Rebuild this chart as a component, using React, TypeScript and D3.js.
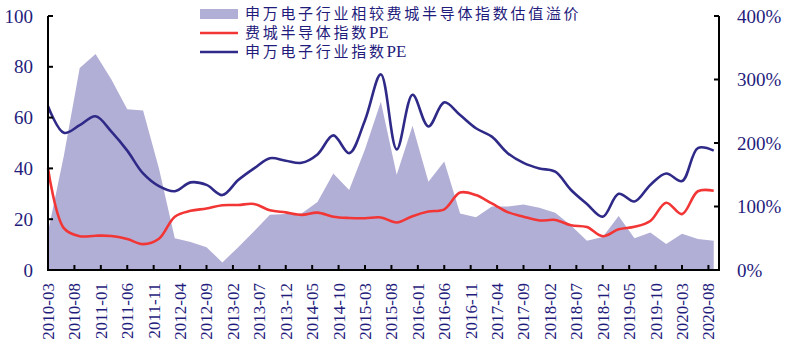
import React, { useEffect, useRef } from "react";
import * as d3 from "d3";

// quarterly observations
const quarters = [
  "2010-03", "2010-06", "2010-09", "2010-12",
  "2011-03", "2011-06", "2011-09", "2011-12",
  "2012-03", "2012-06", "2012-09", "2012-12",
  "2013-03", "2013-06", "2013-09", "2013-12",
  "2014-03", "2014-06", "2014-09", "2014-12",
  "2015-03", "2015-06", "2015-09", "2015-12",
  "2016-03", "2016-06", "2016-09", "2016-12",
  "2017-03", "2017-06", "2017-09", "2017-12",
  "2018-03", "2018-06", "2018-09", "2018-12",
  "2019-03", "2019-06", "2019-09", "2019-12",
  "2020-03", "2020-06", "2020-09",
];

// 申万电子行业相较费城半导体指数估值溢价 (%)
const premium = [
  60, 180, 318, 340, 300, 253, 251, 160, 50, 44, 36, 12, 36, 61, 87, 88, 89,
  107, 152, 126, 190, 265, 150, 227, 139, 171, 89, 83, 100, 100, 103, 98, 90,
  70, 46, 52, 85, 50, 59, 41, 57, 49, 46,
];

// 费城半导体指数PE
const soxPE = [
  40, 16.5, 13.3, 13.5, 13.4, 12.2, 10.2, 12.3, 21, 23.3, 24.2, 25.5, 25.6, 26,
  23.5, 22.7, 21.7, 22.6, 21, 20.5, 20.4, 20.7, 18.7, 21.2, 23, 23.9, 30.5,
  29.5, 26.2, 22.8, 21, 19.5, 19.7, 17.6, 16.9, 13.3, 16, 17, 19.3, 26.5, 22,
  31, 31.2,
];

// 申万电子行业指数PE
const swPE = [
  64.5, 54, 57, 60.5, 54.5, 47, 38, 33, 31, 34.5, 33.5, 29.5, 35.4, 40, 44, 43,
  42.2, 45.5, 53, 46, 59, 77, 47.5, 69, 56.5, 66, 61, 55.8, 52.5, 46, 42.2, 40,
  38.7, 31.5, 26, 21, 30, 27, 33.5, 38, 35, 48, 47,
];

const xTickLabels = [
  "2010-03", "2010-08", "2011-01", "2011-06", "2011-11", "2012-04", "2012-09",
  "2013-02", "2013-07", "2013-12", "2014-05", "2014-10", "2015-03", "2015-08",
  "2016-01", "2016-06", "2016-11", "2017-04", "2017-09", "2018-02", "2018-07",
  "2018-12", "2019-05", "2019-10", "2020-03", "2020-08",
];

const leftTicks = [0, 20, 40, 60, 80, 100];
const rightTicks = [0, 100, 200, 300, 400];

const legendItems = [
  { cjk: "申万电子行业相较费城半导体指数估值溢价", latin: "", type: "area" },
  { cjk: "费城半导体指数", latin: "PE", type: "red" },
  { cjk: "申万电子行业指数", latin: "PE", type: "blue" },
];

const width = 800;
const height = 353;
const textColor = "#1f1c7c";
const areaColor = "#b2afd6";
const redColor = "#f23535";
const blueColor = "#2f2a88";
const font = "Liberation Serif, DejaVu Serif, serif";
const cjkFont = "Noto Sans CJK SC, sans-serif";

// month index since 2010-03
const monthIndex = (s: string) => {
  const [y, m] = s.split("-").map(Number);
  return (y - 2010) * 12 + (m - 3);
};

const App = () => {
  const svgRef = useRef<SVGSVGElement>(null);

  useEffect(() => {
    const svg = d3.select(svgRef.current);
    svg.selectAll("*").remove();

    const x = d3.scaleLinear().domain([0, 127]).range([48, 719]);
    const yL = d3.scaleLinear().domain([0, 100]).range([270, 16]);
    const yR = d3.scaleLinear().domain([0, 400]).range([270, 16]);

    const xs = quarters.map(monthIndex);

    // area
    const area = d3
      .area<number>()
      .x((d, i) => x(xs[i]))
      .y0(yR(0))
      .y1((d) => yR(d));
    svg.append("path").attr("d", area(premium)).attr("fill", areaColor);

    const line = (yScale: d3.ScaleLinear<number, number>) =>
      d3
        .line<number>()
        .x((d, i) => x(xs[i]))
        .y((d) => yScale(d))
        .curve(d3.curveCatmullRom);

    svg
      .append("path")
      .attr("d", line(yL)(soxPE))
      .attr("fill", "none")
      .attr("stroke", redColor)
      .attr("stroke-width", 2.6);

    svg
      .append("path")
      .attr("d", line(yL)(swPE))
      .attr("fill", "none")
      .attr("stroke", blueColor)
      .attr("stroke-width", 2.6);

    // axes
    const axisG = svg.append("g").attr("stroke", "#000").attr("stroke-width", 2);
    axisG.append("line").attr("x1", 48).attr("x2", 48).attr("y1", yL(100)).attr("y2", yL(0));
    axisG.append("line").attr("x1", 719).attr("x2", 719).attr("y1", yR(400)).attr("y2", yR(0));
    axisG.append("line").attr("x1", 47).attr("x2", 720).attr("y1", 270).attr("y2", 270);

    leftTicks.forEach((t) => {
      axisG.append("line").attr("x1", 48).attr("x2", 53).attr("y1", yL(t)).attr("y2", yL(t));
      svg
        .append("text")
        .attr("x", 33)
        .attr("y", yL(t))
        .attr("dy", "0.35em")
        .attr("text-anchor", "end")
        .style("font-family", font)
        .attr("font-size", 19)
        .attr("fill", textColor)
        .text(t);
    });

    rightTicks.forEach((t) => {
      axisG.append("line").attr("x1", 714).attr("x2", 719).attr("y1", yR(t)).attr("y2", yR(t));
      svg
        .append("text")
        .attr("x", 737)
        .attr("y", yR(t))
        .attr("dy", "0.35em")
        .attr("text-anchor", "start")
        .style("font-family", font)
        .attr("font-size", 19)
        .attr("fill", textColor)
        .text(`${t}%`);
    });

    xTickLabels.forEach((lbl) => {
      const px = x(monthIndex(lbl));
      axisG.append("line").attr("x1", px).attr("x2", px).attr("y1", 270).attr("y2", 265);
      svg
        .append("text")
        .attr("transform", `translate(${px},283) rotate(-90)`)
        .attr("dy", "0.35em")
        .attr("text-anchor", "end")
        .style("font-family", font)
        .attr("font-size", 17)
        .attr("fill", textColor)
        .text(lbl);
    });

    // legend
    const legend = svg.append("g").attr("transform", "translate(200,14)");
    legendItems.forEach((item, i) => {
      const g = legend.append("g").attr("transform", `translate(0,${i * 19})`);
      if (item.type === "area") {
        g.append("rect").attr("x", 0).attr("y", -5).attr("width", 38).attr("height", 10).attr("fill", areaColor);
      } else {
        g.append("line")
          .attr("x1", 0)
          .attr("x2", 38)
          .attr("stroke", item.type === "red" ? redColor : blueColor)
          .attr("stroke-width", 2.6);
      }
      const t = g
        .append("text")
        .attr("x", 45)
        .attr("dy", "0.36em")
        .attr("font-size", 15)
        .attr("fill", textColor);
      t.append("tspan")
        .style("font-family", cjkFont)
        .attr("letter-spacing", 2.7)
        .text(item.cjk);
      if (item.latin) {
        t.append("tspan").style("font-family", font).attr("font-size", 17).text(item.latin);
      }
    });
  }, []);

  return (
    <svg
      ref={svgRef}
      width={width}
      height={height}
      style={{ position: "absolute", left: 0, top: 0, background: "#fff" }}
    />
  );
};

export default App;
